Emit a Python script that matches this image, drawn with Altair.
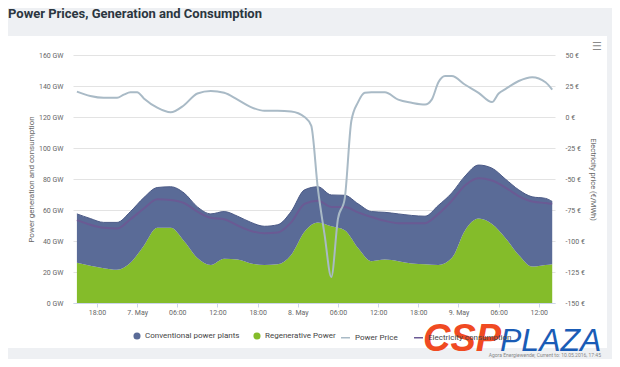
import altair as alt
import pandas as pd

# ---------------- data ----------------
gen_times = [
    "2016-05-06T15:00:00Z", "2016-05-06T17:00:00Z", "2016-05-06T19:00:00Z", "2016-05-06T21:00:00Z", "2016-05-06T23:00:00Z",
    "2016-05-07T01:00:00Z", "2016-05-07T03:00:00Z", "2016-05-07T05:00:00Z", "2016-05-07T07:00:00Z", "2016-05-07T09:00:00Z",
    "2016-05-07T11:00:00Z", "2016-05-07T13:00:00Z", "2016-05-07T15:00:00Z", "2016-05-07T17:00:00Z", "2016-05-07T19:00:00Z",
    "2016-05-07T21:00:00Z", "2016-05-07T23:00:00Z",
    "2016-05-08T01:00:00Z", "2016-05-08T03:00:00Z", "2016-05-08T05:00:00Z", "2016-05-08T07:00:00Z", "2016-05-08T09:00:00Z",
    "2016-05-08T11:00:00Z", "2016-05-08T13:00:00Z", "2016-05-08T15:00:00Z", "2016-05-08T17:00:00Z", "2016-05-08T19:00:00Z",
    "2016-05-08T21:00:00Z", "2016-05-08T23:00:00Z",
    "2016-05-09T01:00:00Z", "2016-05-09T03:00:00Z", "2016-05-09T05:00:00Z", "2016-05-09T07:00:00Z", "2016-05-09T09:00:00Z",
    "2016-05-09T11:00:00Z", "2016-05-09T13:00:00Z", "2016-05-09T14:00:00Z",
]
regenerative = [26, 24, 22.5, 21.5, 26, 37, 48.5, 48.5, 40, 29, 24.5, 28.5, 28, 25.5, 24.5, 25, 31,
                46, 52, 49.5, 47, 35.5, 27, 28, 27, 25.5, 25, 24.5, 29,
                47, 54.5, 51, 42, 31, 23.5, 24.5, 25]
conventional = [31.5, 30.5, 29.5, 30.5, 33, 31, 26, 26.5, 31, 33, 33, 30.5, 28, 26.5, 25, 25.5, 28,
                27, 23, 20.2, 22.5, 28.5, 32, 30.5, 30.5, 31, 31, 38.5, 42,
                35, 34.5, 36, 38, 42, 45, 43, 40.5]
consumption = [53.5, 50.5, 48.5, 48, 54, 61, 67, 66.5, 64.5, 59, 55, 54, 50, 46.5, 45, 45.5, 52,
               64, 66, 62, 62, 58.5, 55.5, 53, 51.5, 51.5, 51.5, 57.5, 66,
               76, 80.5, 79, 74.5, 69, 65.5, 64.5, 64]

price_times = [
    "2016-05-06T15:00:00Z", "2016-05-06T17:00:00Z", "2016-05-06T19:00:00Z", "2016-05-06T21:00:00Z", "2016-05-06T22:00:00Z",
    "2016-05-06T23:00:00Z", "2016-05-07T00:00:00Z", "2016-05-07T01:00:00Z", "2016-05-07T03:00:00Z", "2016-05-07T05:00:00Z",
    "2016-05-07T07:00:00Z", "2016-05-07T09:00:00Z", "2016-05-07T11:00:00Z", "2016-05-07T13:00:00Z", "2016-05-07T15:00:00Z",
    "2016-05-07T17:00:00Z", "2016-05-07T19:00:00Z", "2016-05-07T21:00:00Z", "2016-05-07T23:00:00Z",
    "2016-05-08T01:00:00Z", "2016-05-08T02:00:00Z", "2016-05-08T03:00:00Z", "2016-05-08T04:00:00Z", "2016-05-08T05:00:00Z",
    "2016-05-08T06:00:00Z", "2016-05-08T07:00:00Z", "2016-05-08T08:00:00Z", "2016-05-08T09:00:00Z", "2016-05-08T10:00:00Z",
    "2016-05-08T11:00:00Z", "2016-05-08T13:00:00Z", "2016-05-08T15:00:00Z", "2016-05-08T17:00:00Z", "2016-05-08T19:00:00Z",
    "2016-05-08T20:00:00Z", "2016-05-08T21:00:00Z", "2016-05-08T22:00:00Z", "2016-05-08T23:00:00Z",
    "2016-05-09T01:00:00Z", "2016-05-09T03:00:00Z", "2016-05-09T05:00:00Z", "2016-05-09T06:00:00Z", "2016-05-09T07:00:00Z",
    "2016-05-09T09:00:00Z", "2016-05-09T11:00:00Z", "2016-05-09T13:00:00Z", "2016-05-09T14:00:00Z",
]
price = [20.5, 17, 15.5, 15.5, 18, 20, 20, 15, 7.5, 3.8, 9.5, 19, 21, 19.5, 14,
         8, 5, 5, 4.5,
         0, -7, -58, -95, -129, -82, -66, -3, 12, 19.5, 20, 20, 14, 11.5, 10,
         14, 28, 33, 33,
         26, 19.5, 12, 19, 22.5, 29, 32, 28, 22]

x_tick_times = [
    "2016-05-06T18:00:00Z", "2016-05-07T00:00:00Z", "2016-05-07T06:00:00Z", "2016-05-07T12:00:00Z",
    "2016-05-07T18:00:00Z", "2016-05-08T00:00:00Z", "2016-05-08T06:00:00Z", "2016-05-08T12:00:00Z",
    "2016-05-08T18:00:00Z", "2016-05-09T00:00:00Z", "2016-05-09T06:00:00Z", "2016-05-09T12:00:00Z",
]
x_domain_times = ["2016-05-06T14:25:00Z", "2016-05-09T14:25:00Z"]
gw_ticks = [0, 20, 40, 60, 80, 100, 120, 140, 160]
eur_ticks = [-150, -125, -100, -75, -50, -25, 0, 25, 50]

area_series = ["Conventional power plants", "Regenerative Power"]
area_colors = ["#5a6b97", "#84bc2a"]
line_series = ["Power Price", "Electricity consumption"]
line_colors = ["#a9bac6", "#6a5a94"]

title_text = "Power Prices, Generation and Consumption"
footer_text = "Agora Energiewende; Current to: 10.05.2016, 17:45"

# ---------------- tables ----------------
def ms(s):
    return int(pd.Timestamp(s).value // 10**6)

rows = []
for t, r, c in zip(gen_times, regenerative, conventional):
    rows.append({"t": t, "series": "Regenerative Power", "ord": 0, "value": r})
    rows.append({"t": t, "series": "Conventional power plants", "ord": 1, "value": c})
df_gen = pd.DataFrame(rows)
df_total = pd.DataFrame({"t": gen_times,
                         "total": [r + c for r, c in zip(regenerative, conventional)]})
df_cons = pd.DataFrame({"t": gen_times, "value": consumption, "series": "Electricity consumption"})
df_price = pd.DataFrame({"t": price_times, "value": price, "series": "Power Price"})

FONT = "Roboto"
PAGE_GREY = "#eef0f3"
x_scale = alt.Scale(type="utc", domain=[ms(x_domain_times[0]), ms(x_domain_times[1])])
x_axis = alt.Axis(
    values=[ms(v) for v in x_tick_times],
    labelExpr="utchours(datum.value) == 0 ? utcFormat(datum.value, '%-d. %b') : utcFormat(datum.value, '%H:%M')",
    title=None, grid=False, domain=True, domainColor="#ccd6eb", ticks=True, tickColor="#ccd6eb",
    tickSize=4, labelPadding=1, labelFontSize=7, labelColor="#666666", labelFont=FONT,
)
x_enc = alt.X("t:T", scale=x_scale, axis=x_axis)

gw_axis = alt.Axis(
    orient="left", values=gw_ticks, labelExpr="datum.value + ' GW'", grid=True, gridColor="#e3e3e3",
    domain=False, ticks=False, labelPadding=10, labelFontSize=7, labelColor="#666666", labelFont=FONT,
    title="Power generation and consumption", titleFontSize=8, titleFontWeight="normal",
    titleColor="#666666", titleFont=FONT, titlePadding=3,
)
gw_scale = alt.Scale(domain=[0, 160], nice=False)

areas = alt.Chart(df_gen).mark_area(interpolate="monotone", opacity=1).encode(
    x=x_enc,
    y=alt.Y("value:Q", stack="zero", scale=gw_scale, axis=gw_axis),
    color=alt.Color("series:N", scale=alt.Scale(domain=area_series, range=area_colors),
                    legend=alt.Legend(orient="none", legendX=60, legendY=277, direction="horizontal",
                                      title=None, symbolType="circle", symbolSize=50, symbolStrokeWidth=0,
                                      labelFontSize=8, labelFont=FONT, labelColor="#444444",
                                      columnPadding=13, labelOffset=4)),
    order=alt.Order("ord:Q"),
)
edge = alt.Chart(df_total).mark_line(interpolate="monotone", color="#4b5a86", strokeWidth=1).encode(
    x=x_enc, y=alt.Y("total:Q", scale=gw_scale, axis=gw_axis),
)
cons = alt.Chart(df_cons).mark_line(interpolate="monotone", strokeWidth=2).encode(
    x=x_enc, y=alt.Y("value:Q", scale=gw_scale, axis=gw_axis),
    stroke=alt.Stroke("series:N", scale=alt.Scale(domain=line_series, range=line_colors),
                      legend=alt.Legend(orient="none", legendX=267, legendY=277, direction="horizontal",
                                        title=None, symbolType="stroke", symbolSize=80, symbolStrokeWidth=1.5,
                                        labelFontSize=8, labelFont=FONT, labelColor="#444444",
                                        columnPadding=13, labelOffset=4)),
)
gen_layer = alt.layer(areas, edge, cons)

price_line = alt.Chart(df_price).mark_line(interpolate="monotone", strokeWidth=2).encode(
    x=x_enc,
    y=alt.Y("value:Q", scale=alt.Scale(domain=[-150, 50], nice=False),
            axis=alt.Axis(orient="right", values=eur_ticks, labelExpr="datum.value + ' €'", grid=False,
                          domain=False, ticks=False, labelPadding=10, labelFontSize=7, labelColor="#666666",
                          labelFont=FONT, title="Electricity price (€/MWh)", titleFontSize=7.5,
                          titleFontWeight="normal", titleColor="#666666", titleFont=FONT, titlePadding=4)),
    stroke=alt.Stroke("series:N", scale=alt.Scale(domain=line_series, range=line_colors)),
)

# grey page strips around the white card (decoration)
def strip(x1, x2, y1, y2):
    return alt.Chart(pd.DataFrame({"k": [0]})).mark_rect(color=PAGE_GREY).encode(
        x=alt.value(x1), x2=alt.value(x2), y=alt.value(y1), y2=alt.value(y2))

strips = [strip(-65, 539, -47, -19), strip(534, 539, -19, 296), strip(-65, 539, 293, 304)]

def text_layer(txt, x, y, **kw):
    return alt.Chart(pd.DataFrame({"txt": [txt]})).mark_text(**kw).encode(
        x=alt.value(x), y=alt.value(y), text="txt:N")

title = text_layer(title_text, -65, -37, align="left", baseline="alphabetic", font=FONT,
                   fontSize=13, fontWeight="bold", color="#2b3640")
menu = text_layer("☰", 524, -8, align="center", baseline="middle", font="DejaVu Sans",
                  fontSize=11, color="#8a8a8a")
csp = text_layer("CSP", 350, 296, align="left", baseline="alphabetic", font="Liberation Sans",
                 fontSize=38, fontWeight="bold", fontStyle="italic", color="#f04a22")
plaza = text_layer("PLAZA", 427, 296, align="left", baseline="alphabetic", font="Liberation Sans",
                   fontSize=32, fontStyle="italic", color="#1a5cb6")
footer = text_layer(footer_text, 528, 302, align="right", baseline="alphabetic", font=FONT,
                    fontSize=5, color="#888888")

chart = alt.layer(*strips, gen_layer, price_line, title, menu, csp, plaza, footer).resolve_scale(
    y="independent"
).properties(
    width=482, height=248, background="white",
    padding={"left": 65, "top": 47, "right": 57, "bottom": 56},
    autosize=alt.AutoSizeParams(type="none"),
).configure_view(stroke=None)

chart.save("out.html", embed_options={"renderer": "svg", "actions": False})
